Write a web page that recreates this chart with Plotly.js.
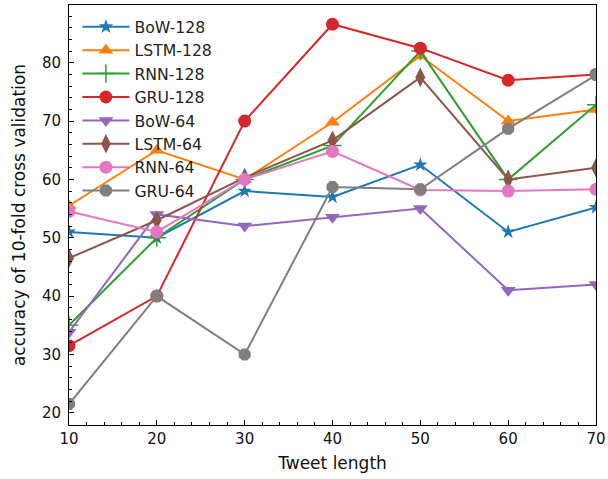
<!DOCTYPE html>
<html>
<head>
<meta charset="utf-8">
<script src="https://cdn.plot.ly/plotly-3.0.1.min.js"></script>
<style>html,body{margin:0;padding:0;background:#fff;}#chart{width:608px;height:479px;}</style>
</head>
<body>
<div id="chart"></div>
<script>
const tweetLength = [10, 20, 30, 40, 50, 60, 70];
const bow128  = [51, 50, 58, 57, 62.5, 51, 55.2];
const lstm128 = [55.5, 65, 60, 69.8, 81.2, 70, 72];
const rnn128  = [35, 50, 60, 65.8, 82, 60, 72.8];
const gru128  = [31.5, 40, 70, 86.6, 82.5, 77, 78];
const bow64   = [33.8, 54, 52, 53.5, 55, 41, 42];
const lstm64  = [46.5, 53, 60.3, 66.7, 77.5, 60, 62];
const rnn64   = [54.5, 51, 60, 64.8, 58.2, 58, 58.3];
const gru64   = [21.5, 40, 30, 58.7, 58.3, 68.7, 77.9];
const seriesNames = ["BoW-128", "LSTM-128", "RNN-128", "GRU-128", "BoW-64", "LSTM-64", "RNN-64", "GRU-64"];
const seriesValues = [bow128, lstm128, rnn128, gru128, bow64, lstm64, rnn64, gru64];
const colors = ["#1f77b4", "#ff7f0e", "#2ca02c", "#d62728", "#9467bd", "#8c564b", "#e377c2", "#7f7f7f"];
const symbols = ["star", "triangle-up", "cross-thin", "circle", "triangle-down", "diamond-tall", "circle", "octagon"];
const sizes = [11, 13, 13, 13, 13, 14, 13, 13];

const traces = seriesNames.map((name, i) => ({
  x: tweetLength,
  y: seriesValues[i],
  name: name,
  type: "scatter",
  mode: "lines+markers",
  line: {color: colors[i], width: 2},
  marker: {
    symbol: symbols[i],
    size: sizes[i],
    color: colors[i],
    line: {color: colors[i], width: symbols[i] === "cross-thin" ? 1.5 : 0}
  }
}));

const tickFont = {family: "DejaVu Sans", size: 15, color: "#111"};
const titleFont = {family: "DejaVu Sans", size: 17, color: "#111"};
const layout = {
  width: 608,
  height: 479,
  margin: {l: 69, r: 12, t: 5, b: 54},
  paper_bgcolor: "#fff",
  plot_bgcolor: "#fff",
  showlegend: true,
  legend: {
    x: 0.016, y: 0.988, xanchor: "left", yanchor: "top",
    bgcolor: "rgba(255,255,255,0)",
    font: {family: "DejaVu Sans", size: 15.7, color: "#222"},
    itemwidth: 47,
    tracegroupgap: 0
  },
  xaxis: {
    range: [10, 70],
    tickvals: [10, 20, 30, 40, 50, 60, 70],
    ticks: "inside", ticklen: 5, tickwidth: 1, tickcolor: "#000",
    minor: {dtick: 2, ticks: "inside", ticklen: 3, tickwidth: 1, tickcolor: "#000", showgrid: false},
    showline: true, linecolor: "#000", linewidth: 1, mirror: true,
    showgrid: false, zeroline: false,
    tickfont: tickFont,
    title: {text: "Tweet length", font: titleFont, standoff: 10}
  },
  yaxis: {
    range: [17.9, 89.9],
    tickvals: [20, 30, 40, 50, 60, 70, 80],
    ticks: "inside", ticklen: 5, tickwidth: 1, tickcolor: "#000",
    ticklabelstandoff: 4,
    minor: {dtick: 2, ticks: "inside", ticklen: 3, tickwidth: 1, tickcolor: "#000", showgrid: false},
    showline: true, linecolor: "#000", linewidth: 1, mirror: true,
    showgrid: false, zeroline: false,
    tickfont: tickFont,
    title: {text: "accuracy of 10-fold cross validation", font: titleFont, standoff: 11}
  }
};

Plotly.newPlot("chart", traces, layout, {displayModeBar: false, staticPlot: true});
</script>
</body>
</html>
